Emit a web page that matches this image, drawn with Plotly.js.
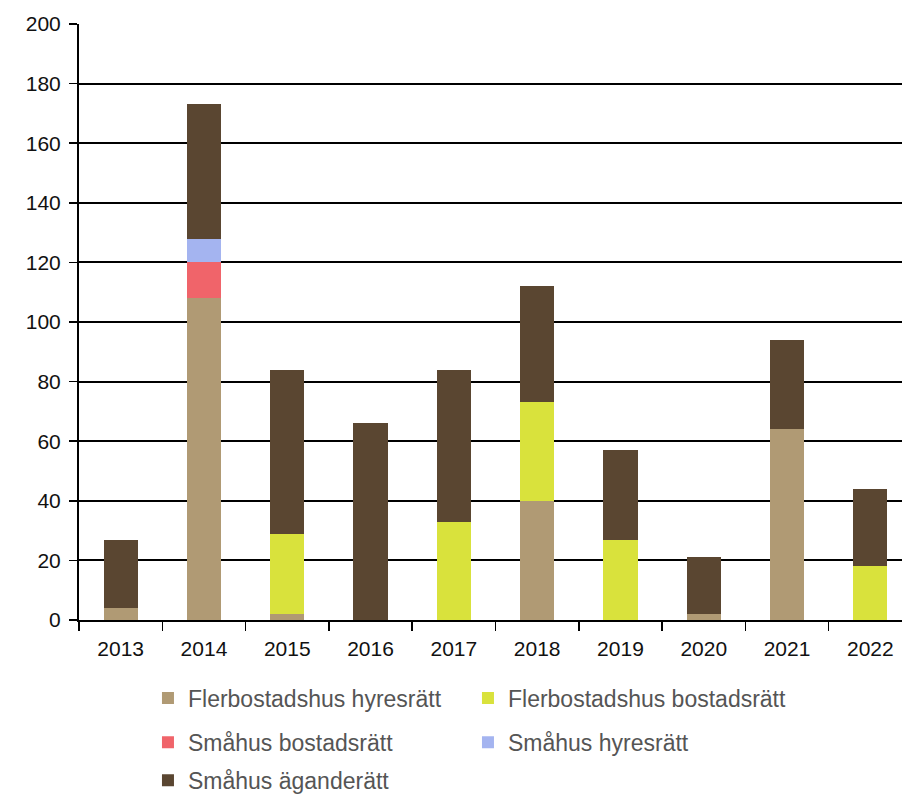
<!DOCTYPE html>
<html>
<head>
<meta charset="utf-8">
<script src="https://cdn.plot.ly/plotly-3.0.1.min.js"></script>
<style>
html,body{margin:0;padding:0;overflow:hidden;background:#fff;}
#chart{width:912px;height:795px;}
</style>
</head>
<body>
<div id="chart"></div>
<script>
const years = ['2013','2014','2015','2016','2017','2018','2019','2020','2021','2022'];
const flerHyres   = [4, 108, 2, 0, 0, 40, 0, 2, 64, 0];
const flerBostads = [0, 0, 27, 0, 33, 33, 27, 0, 0, 18];
const smaBostads  = [0, 12, 0, 0, 0, 0, 0, 0, 0, 0];
const smaHyres    = [0, 8, 0, 0, 0, 0, 0, 0, 0, 0];
const smaAgande   = [23, 45, 55, 66, 51, 39, 30, 19, 30, 26];
const seriesNames = ['Flerbostadshus hyresrätt','Flerbostadshus bostadsrätt','Småhus bostadsrätt','Småhus hyresrätt','Småhus äganderätt'];
const yTicks = [0,20,40,60,80,100,120,140,160,180,200];

const colors = ['#b09a74','#d9e23c','#f0646a','#a4b4f0','#5a4631'];
const legends = ['legend','legend','legend2','legend2','legend3'];
const vals = [flerHyres, flerBostads, smaBostads, smaHyres, smaAgande];

const traces = vals.map((v,i)=>({
  type:'bar', x:years, y:v, name:seriesNames[i],
  marker:{color:colors[i], line:{width:0}},
  legend:legends[i], hoverinfo:'none'
}));

const legFont = {family:'Liberation Sans, Arial, sans-serif', size:23, color:'#555555'};
const legCommon = {orientation:'h', font:legFont, xanchor:'left', yanchor:'middle',
  bgcolor:'rgba(0,0,0,0)', borderwidth:0, entrywidth:275, entrywidthmode:'pixels',
  itemwidth:30, traceorder:'normal', itemclick:false, itemdoubleclick:false};

const layout = {
  width:912, height:795,
  margin:{l:79, r:0, t:24, b:175, autoexpand:false},
  paper_bgcolor:'#fff', plot_bgcolor:'#fff',
  barmode:'stack', bargap:0.59,
  font:{family:'Liberation Sans, Arial, sans-serif', color:'#111'},
  xaxis:{type:'category', showline:true, linecolor:'#000', linewidth:2,
    ticks:'outside', tickson:'boundaries', ticklen:9, tickcolor:'#000', tickwidth:1.5,
    tickfont:{size:21, color:'#111'}, showgrid:false, fixedrange:true, ticklabelstandoff:9},
  yaxis:{range:[0,200], tickvals:yTicks, ticktext:yTicks.map(String), showline:true, linecolor:'#000', linewidth:2,
    ticks:'outside', ticklen:8, tickcolor:'#000', tickwidth:1.5,
    showgrid:true, gridcolor:'#000', gridwidth:2, zeroline:false,
    tickfont:{size:21, color:'#111'}, fixedrange:true, ticklabelstandoff:4},
  showlegend:true,
  legend:Object.assign({}, legCommon, {x:0.0828, y:-0.131}),
  legend2:Object.assign({}, legCommon, {x:0.0828, y:-0.205}),
  legend3:Object.assign({}, legCommon, {x:0.0828, y:-0.269})
};

Plotly.newPlot('chart', traces, layout, {displayModeBar:false, staticPlot:true});
</script>
</body>
</html>
